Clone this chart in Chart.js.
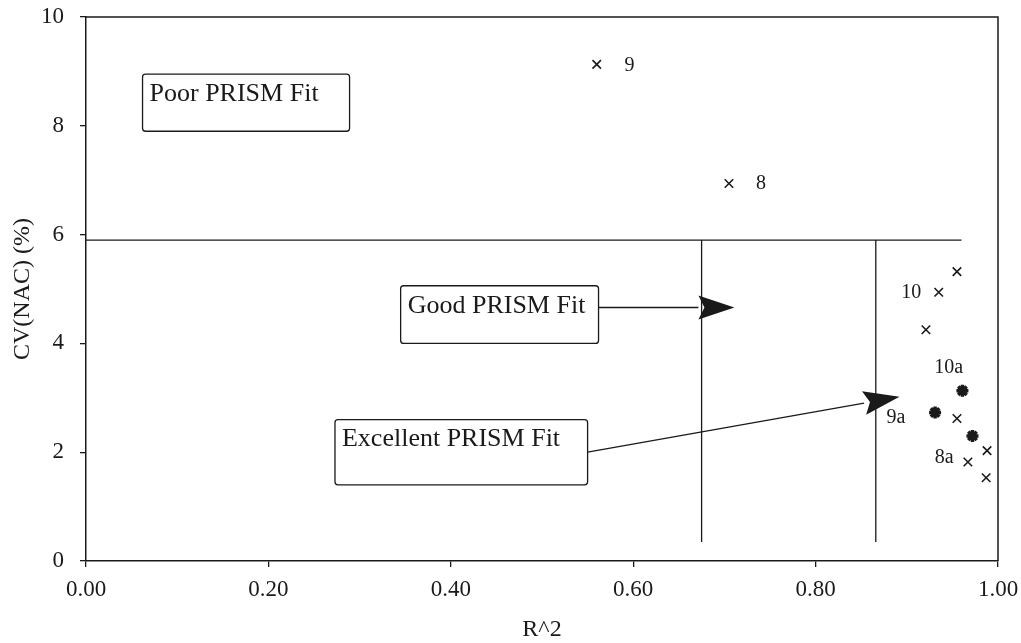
<!DOCTYPE html>
<html>
<head>
<meta charset="utf-8">
<script src="https://cdn.jsdelivr.net/npm/chart.js@4"></script>
<style>
  html, body { margin: 0; padding: 0; background: #fff; }
  #wrap { width: 1021px; height: 643px; }
</style>
</head>
<body>
<div id="wrap"><canvas id="chart1" width="1021" height="643"></canvas></div>
<script>
// points shown as x marks
const crossR2 = [0.560, 0.705, 0.955, 0.935, 0.921, 0.955, 0.988, 0.967, 0.987];
const crossCV = [9.13, 6.94, 5.32, 4.94, 4.25, 2.62, 2.03, 1.82, 1.53];
// points shown as heavy stars
const starR2 = [0.961, 0.931, 0.972];
const starCV = [3.13, 2.73, 2.30];

// point labels
const pointLabels = ['9', '8', '10', '10a', '9a', '8a'];
const labelR2 = [0.596, 0.740, 0.905, 0.946, 0.888, 0.941];
const labelCV = [9.10, 6.94, 4.94, 3.55, 2.63, 1.90];

// threshold lines
const hLineR2 = [0, 0.96];
const hLineCV = [5.9, 5.9];
const vLine1R2 = [0.675, 0.675];
const vLine2R2 = [0.866, 0.866];
const vLineCV = [5.9, 0.35];

// text boxes
const boxText = ['Poor PRISM Fit', 'Good PRISM Fit', 'Excellent PRISM Fit'];
const boxLeft = [0.062, 0.345, 0.273];
const boxRight = [0.289, 0.562, 0.550];
const boxTop = [8.95, 5.06, 2.60];
const boxBottom = [7.90, 4.00, 1.40];

// arrows from boxes
const arrowFromR2 = [0.562, 0.550];
const arrowFromCV = [4.66, 2.00];
const arrowToR2 = [0.711, 0.892];
const arrowToCV = [4.66, 3.02];

// tick labels
const xTickLabels = ['0.00', '0.20', '0.40', '0.60', '0.80', '1.00'];
const yTickLabels = ['0', '2', '4', '6', '8', '10'];

const ink = '#1a1a1a';
const serif = '"Liberation Serif", "DejaVu Serif", serif';

function toPoints(xs, ys) {
    return xs.map((x, i) => ({ x: x, y: ys[i] }));
}

// draws frame, boxes, arrows and point labels
const extras = {
    id: 'extras',
    afterDatasetsDraw(chart) {
        const ctx = chart.ctx;
        const xs = chart.scales.x;
        const ys = chart.scales.y;
        const a = chart.chartArea;
        ctx.save();
        ctx.strokeStyle = ink;
        ctx.fillStyle = ink;

        // top and right border
        ctx.lineWidth = 1.5;
        ctx.beginPath();
        ctx.moveTo(a.left, a.top);
        ctx.lineTo(a.right, a.top);
        ctx.lineTo(a.right, a.bottom);
        ctx.stroke();

        // boxes
        ctx.font = '26px ' + serif;
        ctx.textBaseline = 'middle';
        ctx.textAlign = 'left';
        boxText.forEach((t, i) => {
            const l = xs.getPixelForValue(boxLeft[i]);
            const r = xs.getPixelForValue(boxRight[i]);
            const tp = ys.getPixelForValue(boxTop[i]);
            const b = ys.getPixelForValue(boxBottom[i]);
            ctx.lineWidth = 1.3;
            ctx.beginPath();
            if (ctx.roundRect) ctx.roundRect(l, tp, r - l, b - tp, 3);
            else ctx.rect(l, tp, r - l, b - tp);
            ctx.stroke();
            ctx.fillText(t, l + 7, tp + 20);
        });

        // arrows
        arrowFromR2.forEach((v, i) => {
            const x1 = xs.getPixelForValue(v);
            const y1 = ys.getPixelForValue(arrowFromCV[i]);
            const x2 = xs.getPixelForValue(arrowToR2[i]);
            const y2 = ys.getPixelForValue(arrowToCV[i]);
            const ang = Math.atan2(y2 - y1, x2 - x1);
            const len = 36, half = 12;
            const bx = x2 - len * Math.cos(ang);
            const by = y2 - len * Math.sin(ang);
            ctx.lineWidth = 1.3;
            ctx.beginPath();
            ctx.moveTo(x1, y1);
            ctx.lineTo(bx, by);
            ctx.stroke();
            ctx.beginPath();
            ctx.moveTo(x2, y2);
            ctx.lineTo(bx - half * Math.sin(ang), by + half * Math.cos(ang));
            ctx.lineTo(bx + 6 * Math.cos(ang), by + 6 * Math.sin(ang));
            ctx.lineTo(bx + half * Math.sin(ang), by - half * Math.cos(ang));
            ctx.closePath();
            ctx.fill();
        });

        // point labels
        ctx.font = '20px ' + serif;
        ctx.textAlign = 'center';
        pointLabels.forEach((t, i) => {
            ctx.fillText(t, xs.getPixelForValue(labelR2[i]), ys.getPixelForValue(labelCV[i]));
        });
        ctx.restore();
    }
};

const lineStyle = {
    showLine: true,
    borderColor: ink,
    borderWidth: 1.3,
    pointRadius: 0,
    fill: false
};

const chart1 = new Chart(document.getElementById('chart1'), {
    type: 'scatter',
    data: {
        datasets: [
            Object.assign({ data: toPoints(hLineR2, hLineCV) }, lineStyle),
            Object.assign({ data: toPoints(vLine1R2, vLineCV) }, lineStyle),
            Object.assign({ data: toPoints(vLine2R2, vLineCV) }, lineStyle),
            {
                data: toPoints(crossR2, crossCV),
                pointStyle: 'crossRot',
                pointRadius: 6,
                borderColor: ink,
                borderWidth: 1.6
            },
            {
                data: toPoints(starR2, starCV),
                pointStyle: 'star',
                pointRadius: 6,
                borderColor: ink,
                borderWidth: 3.5
            }
        ]
    },
    options: {
        responsive: false,
        animation: false,
        events: [],
        layout: { padding: { top: 17, right: 23, left: 0, bottom: 0 } },
        plugins: {
            legend: { display: false },
            tooltip: { enabled: false }
        },
        scales: {
            x: {
                type: 'linear',
                min: 0,
                max: 1,
                afterFit: function(scale) {
                    scale.height = 82;
                    scale.paddingLeft = 0;
                    scale.paddingRight = 0;
                },
                afterBuildTicks: function(scale) {
                    scale.ticks = xTickLabels.map(v => ({ value: parseFloat(v) }));
                },
                ticks: {
                    color: ink,
                    font: { family: serif, size: 23 },
                    padding: 9,
                    maxRotation: 0,
                    callback: function(value, index) { return xTickLabels[index]; }
                },
                grid: { drawOnChartArea: false, drawTicks: true, tickLength: 6, color: ink, lineWidth: 1.3 },
                border: { display: true, color: ink, width: 1.5 },
                title: {
                    display: true,
                    text: 'R^2',
                    color: ink,
                    font: { family: serif, size: 24, lineHeight: 1 },
                    padding: { top: 0, bottom: 1 }
                }
            },
            y: {
                type: 'linear',
                min: 0,
                max: 10,
                afterFit: function(scale) {
                    scale.width = 86;
                    scale.paddingTop = 0;
                    scale.paddingBottom = 0;
                },
                afterBuildTicks: function(scale) {
                    scale.ticks = yTickLabels.map(v => ({ value: parseFloat(v) }));
                },
                ticks: {
                    color: ink,
                    font: { family: serif, size: 23 },
                    padding: 16,
                    callback: function(value, index) { return yTickLabels[index]; }
                },
                grid: { drawOnChartArea: false, drawTicks: true, tickLength: 6, color: ink, lineWidth: 1.3 },
                border: { display: true, color: ink, width: 1.5 },
                title: {
                    display: true,
                    text: 'CV(NAC) (%)',
                    color: ink,
                    font: { family: serif, size: 24, lineHeight: 1 },
                    padding: { top: 11, bottom: 0 }
                }
            }
        }
    },
    plugins: [extras]
});
</script>
</body>
</html>
